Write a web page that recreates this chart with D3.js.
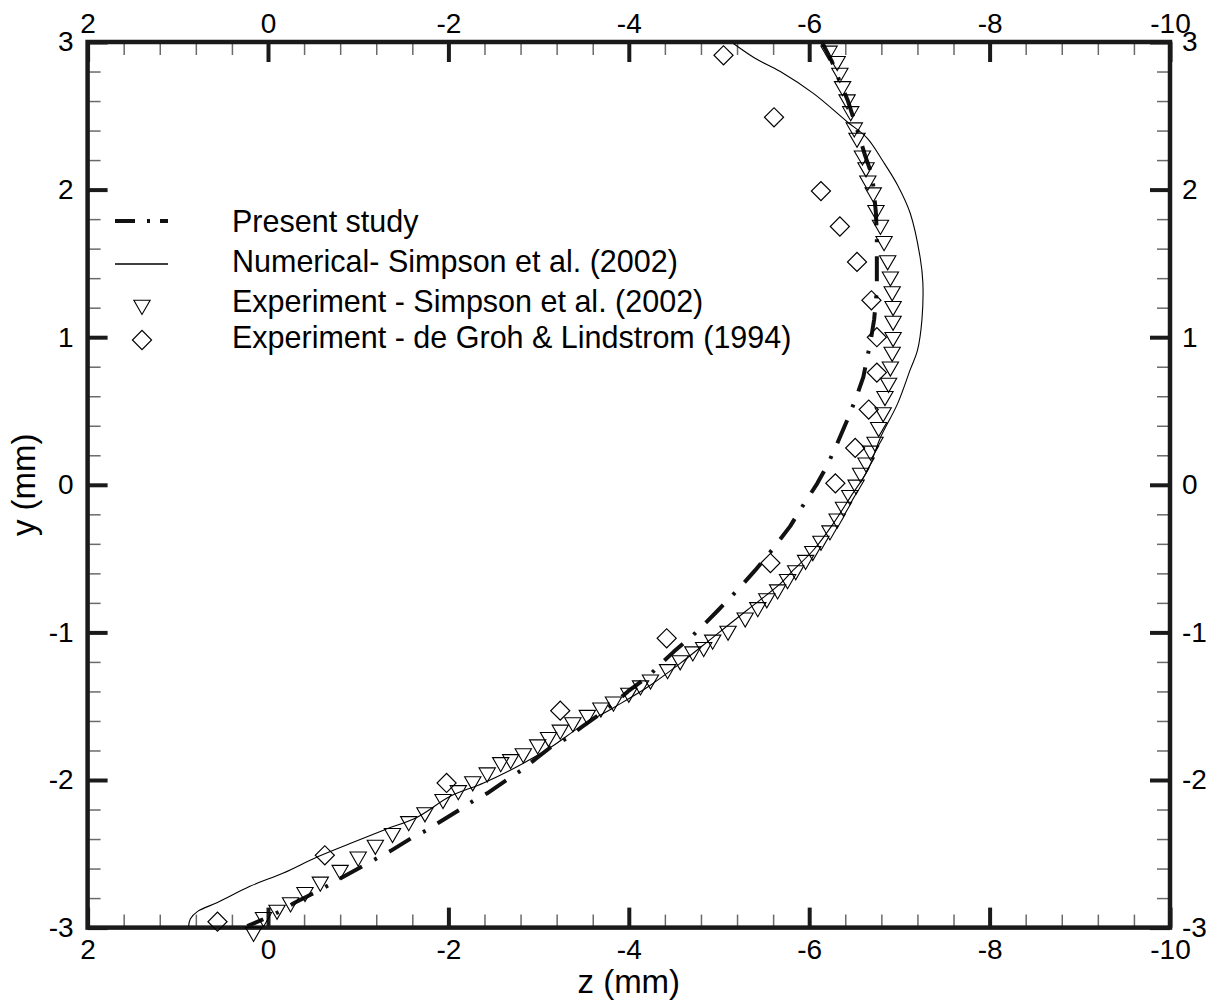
<!DOCTYPE html>
<html>
<head>
<meta charset="utf-8">
<script src="https://cdn.jsdelivr.net/npm/d3@7"></script>
<style>
  html, body { margin: 0; padding: 0; background: #fff; }
  svg { display: block; }
  text { font-family: "Liberation Sans", Arial, Helvetica, sans-serif; fill: #000; }
</style>
</head>
<body>
<svg id="chart" width="1221" height="1006"></svg>
<script>
// ---- axis ticks ----
const zTickValues = [2, 0, -2, -4, -6, -8, -10];
const yTickValues = [-3, -2, -1, 0, 1, 2, 3];

// ---- legend labels ----
const seriesLabels = [
  "Present study",
  "Numerical- Simpson et al. (2002)",
  "Experiment - Simpson et al. (2002)",
  "Experiment - de Groh & Lindstrom (1994)"
];

// ---- Present study (dash-dot curve) ----
const presentZ = [-6.14, -6.25, -6.34, -6.43, -6.54, -6.62, -6.70, -6.74, -6.75, -6.75, -6.75, -6.72, -6.68,
  -6.60, -6.52, -6.43, -6.29, -6.19, -6.09, -5.90, -5.79, -5.59, -5.40, -5.21, -4.99, -4.86, -4.71, -4.50,
  -4.36, -4.23, -3.99, -3.86, -3.71, -3.48, -3.33, -3.13, -2.96, -2.82, -2.67, -2.43, -2.28, -2.13, -1.89,
  -1.76, -1.60, -1.36, -1.21, -1.06, -0.82, -0.68, -0.53, -0.30, -0.13, 0.00, 0.23];
const presentY = [3.00, 2.87, 2.73, 2.60, 2.39, 2.23, 2.09, 1.84, 1.68, 1.54, 1.32, 1.12, 0.97,
  0.73, 0.59, 0.45, 0.25, 0.12, 0.01, -0.17, -0.28, -0.44, -0.58, -0.71, -0.85, -0.93, -1.02, -1.13,
  -1.21, -1.29, -1.40, -1.47, -1.54, -1.64, -1.71, -1.78, -1.86, -1.93, -1.99, -2.09, -2.14, -2.20, -2.29,
  -2.34, -2.39, -2.48, -2.53, -2.58, -2.66, -2.71, -2.76, -2.83, -2.89, -2.93, -2.99];

// ---- Numerical, Simpson et al. (2002) (thin solid curve) ----
const numZ = [-5.16, -5.40, -5.68, -6.05, -6.42, -6.64, -6.82, -6.98, -7.12, -7.23, -7.26, -7.25, -7.20,
  -7.12, -6.98, -6.79, -6.65, -6.46, -6.27, -6.05, -5.82, -5.68, -5.31, -4.94, -4.57, -4.21, -3.83, -3.46,
  -3.13, -2.76, -2.39, -2.02, -1.66, -1.28, -0.91, -0.55, -0.17, 0.20, 0.56, 0.78, 0.86, 0.88];
const numY = [2.99, 2.89, 2.80, 2.65, 2.46, 2.35, 2.19, 2.03, 1.84, 1.54, 1.37, 1.12, 0.91,
  0.78, 0.55, 0.32, 0.10, -0.08, -0.26, -0.44, -0.58, -0.67, -0.85, -1.03, -1.21, -1.37, -1.51, -1.64,
  -1.78, -1.91, -2.02, -2.11, -2.25, -2.34, -2.43, -2.52, -2.63, -2.72, -2.83, -2.89, -2.94, -2.99];

// ---- Experiment, Simpson et al. (2002) (down triangles) ----
const simpsonZ = [-6.22, -6.31, -6.34, -6.37, -6.42, -6.46, -6.50, -6.53, -6.59, -6.63, -6.65, -6.71, -6.74,
  -6.79, -6.83, -6.87, -6.90, -6.92, -6.93, -6.93, -6.93, -6.92, -6.90, -6.88, -6.84, -6.82, -6.77, -6.73,
  -6.68, -6.63, -6.57, -6.52, -6.45, -6.38, -6.31, -6.23, -6.13, -6.04, -5.96, -5.85, -5.76, -5.65, -5.53,
  -5.43, -5.29, -5.10, -4.93, -4.83, -4.71, -4.57, -4.43, -4.24, -4.13, -4.00, -3.83, -3.69, -3.54, -3.38,
  -3.24, -3.11, -2.99, -2.83, -2.69, -2.58, -2.43, -2.27, -2.11, -1.94, -1.74, -1.56, -1.38, -1.19, -1.00,
  -0.80, -0.58, -0.41, -0.25, -0.10, 0.05, 0.16];
const simpsonY = [2.94, 2.87, 2.79, 2.70, 2.61, 2.53, 2.42, 2.35, 2.23, 2.15, 2.06, 1.98, 1.86,
  1.76, 1.65, 1.52, 1.41, 1.31, 1.21, 1.11, 1.00, 0.90, 0.80, 0.69, 0.60, 0.49, 0.39, 0.29,
  0.23, 0.15, 0.08, 0.00, -0.07, -0.15, -0.23, -0.31, -0.38, -0.45, -0.51, -0.58, -0.64, -0.71, -0.77,
  -0.83, -0.90, -0.99, -1.05, -1.10, -1.13, -1.19, -1.25, -1.32, -1.36, -1.41, -1.47, -1.51, -1.56, -1.61,
  -1.66, -1.71, -1.76, -1.82, -1.86, -1.88, -1.95, -2.01, -2.07, -2.13, -2.22, -2.28, -2.36, -2.44, -2.52,
  -2.61, -2.69, -2.76, -2.83, -2.88, -2.93, -3.03];

// ---- Experiment, de Groh & Lindstrom (1994) (diamonds) ----
const grohZ = [-5.05, -5.61, -6.13, -6.34, -6.53, -6.69, -6.75, -6.75, -6.66, -6.51, -6.29, -5.57, -4.42,
  -3.24, -1.98, -0.63, 0.56];
const grohY = [2.91, 2.49, 1.99, 1.75, 1.51, 1.25, 1.00, 0.76, 0.51, 0.25, 0.01, -0.53, -1.04,
  -1.53, -2.02, -2.51, -2.96];

// ---- layout ----
const svg = d3.select("#chart");
const plot = { left: 87.6, right: 1170, top: 42, bottom: 927.6 };
const frameColor = "#1a1a1a";

const x = d3.scaleLinear().domain([2, -10]).range([plot.left, plot.right]);
const y = d3.scaleLinear().domain([-3, 3]).range([plot.bottom, plot.top]);

// minor tick positions: 4 between each labelled z tick, 4 between each labelled y tick
const zMinor = d3.range(0, 31).filter(i => i % 5 !== 0).map(i => 2 - 0.4 * i);
const yMinor = d3.range(0, 31).filter(i => i % 5 !== 0).map(i => -3 + 0.2 * i);

const fmt = d => String(d);

function drawAxis(axis, transform, minor) {
  const g = svg.append("g").attr("transform", transform).call(axis);
  g.select(".domain").remove();
  g.attr("font-family", null).attr("font-size", null);
  if (minor) {
    g.selectAll(".tick line").attr("stroke", "#6a6a6a").attr("stroke-width", 1.5);
    g.selectAll(".tick text").remove();
  } else {
    g.selectAll(".tick line").attr("stroke", frameColor).attr("stroke-width", 4);
    g.selectAll(".tick text").style("font-size", "28px").attr("fill", "#000");
  }
  return g;
}

const majorLen = -20, minorLen = -13;

// minor ticks
drawAxis(d3.axisBottom(x).tickValues(zMinor).tickSize(minorLen).tickFormat(""), `translate(0,${plot.bottom})`, true);
drawAxis(d3.axisTop(x).tickValues(zMinor).tickSize(minorLen).tickFormat(""), `translate(0,${plot.top})`, true);
drawAxis(d3.axisLeft(y).tickValues(yMinor).tickSize(minorLen).tickFormat(""), `translate(${plot.left},0)`, true);
drawAxis(d3.axisRight(y).tickValues(yMinor).tickSize(minorLen).tickFormat(""), `translate(${plot.right},0)`, true);

// major ticks with labels on all four sides
drawAxis(d3.axisBottom(x).tickValues(zTickValues).tickSize(majorLen).tickPadding(12).tickFormat(fmt), `translate(0,${plot.bottom})`, false);
drawAxis(d3.axisTop(x).tickValues(zTickValues).tickSize(majorLen).tickPadding(9).tickFormat(fmt), `translate(0,${plot.top})`, false);
drawAxis(d3.axisLeft(y).tickValues(yTickValues).tickSize(majorLen).tickPadding(14).tickFormat(fmt), `translate(${plot.left},0)`, false);
drawAxis(d3.axisRight(y).tickValues(yTickValues).tickSize(majorLen).tickPadding(12).tickFormat(fmt), `translate(${plot.right},0)`, false);

// frame
svg.append("rect")
  .attr("x", plot.left).attr("y", plot.top)
  .attr("width", plot.right - plot.left).attr("height", plot.bottom - plot.top)
  .attr("fill", "none").attr("stroke", frameColor).attr("stroke-width", 4.5);

// axis titles
svg.append("text")
  .attr("x", (plot.left + plot.right) / 2).attr("y", 993)
  .attr("text-anchor", "middle").style("font-size", "33px")
  .text("z (mm)");
svg.append("text")
  .attr("transform", `translate(35,${(plot.top + plot.bottom) / 2}) rotate(-90)`)
  .attr("text-anchor", "middle").style("font-size", "33px")
  .text("y (mm)");

// ---- curves ----
const numLine = d3.line().x((d, i) => x(numZ[i])).y((d, i) => y(numY[i])).curve(d3.curveCatmullRom.alpha(0.5));
svg.append("path")
  .attr("d", numLine(numZ))
  .attr("fill", "none").attr("stroke", "#000").attr("stroke-width", 1.1);

const presentLine = d3.line().x((d, i) => x(presentZ[i])).y((d, i) => y(presentY[i]));
svg.append("path")
  .attr("d", presentLine(presentZ))
  .attr("fill", "none").attr("stroke", "#111").attr("stroke-width", 4)
  .attr("stroke-dasharray", "25,14,3,14").attr("stroke-linejoin", "round");

// ---- markers ----
const triPath = d3.symbol().type(d3.symbolTriangle).size(115)();
const diaPath = d3.symbol().type(d3.symbolSquare).size(182)();

svg.append("g").selectAll("path")
  .data(simpsonZ)
  .join("path")
  .attr("d", triPath)
  .attr("transform", (d, i) => `translate(${x(simpsonZ[i])},${y(simpsonY[i])}) rotate(180)`)
  .attr("fill", "none").attr("stroke", "#000").attr("stroke-width", 1.1);

svg.append("g").selectAll("path")
  .data(grohZ)
  .join("path")
  .attr("d", diaPath)
  .attr("transform", (d, i) => `translate(${x(grohZ[i])},${y(grohY[i])}) rotate(45)`)
  .attr("fill", "none").attr("stroke", "#000").attr("stroke-width", 1.2);

// ---- legend ----
const legend = svg.append("g");
const legX0 = 115, legX1 = 168, legSym = 142, legText = 232;
const legRows = [221, 264, 305, 340];
const legBase = [232, 272, 312, 348];

legend.append("line")
  .attr("x1", legX0).attr("x2", legX1).attr("y1", legRows[0]).attr("y2", legRows[0])
  .attr("stroke", "#111").attr("stroke-width", 4).attr("stroke-dasharray", "20,12,3,10");
legend.append("line")
  .attr("x1", legX0).attr("x2", legX1).attr("y1", legRows[1]).attr("y2", legRows[1])
  .attr("stroke", "#000").attr("stroke-width", 1.3);
legend.append("path")
  .attr("d", triPath)
  .attr("transform", `translate(${legSym},${legRows[2]}) rotate(180)`)
  .attr("fill", "none").attr("stroke", "#000").attr("stroke-width", 1.1);
legend.append("path")
  .attr("d", diaPath)
  .attr("transform", `translate(${legSym},${legRows[3]}) rotate(45)`)
  .attr("fill", "none").attr("stroke", "#000").attr("stroke-width", 1.2);

legend.selectAll("text")
  .data(seriesLabels)
  .join("text")
  .attr("x", legText)
  .attr("y", (d, i) => legBase[i])
  .style("font-size", "30.5px")
  .text(d => d);
</script>
</body>
</html>
